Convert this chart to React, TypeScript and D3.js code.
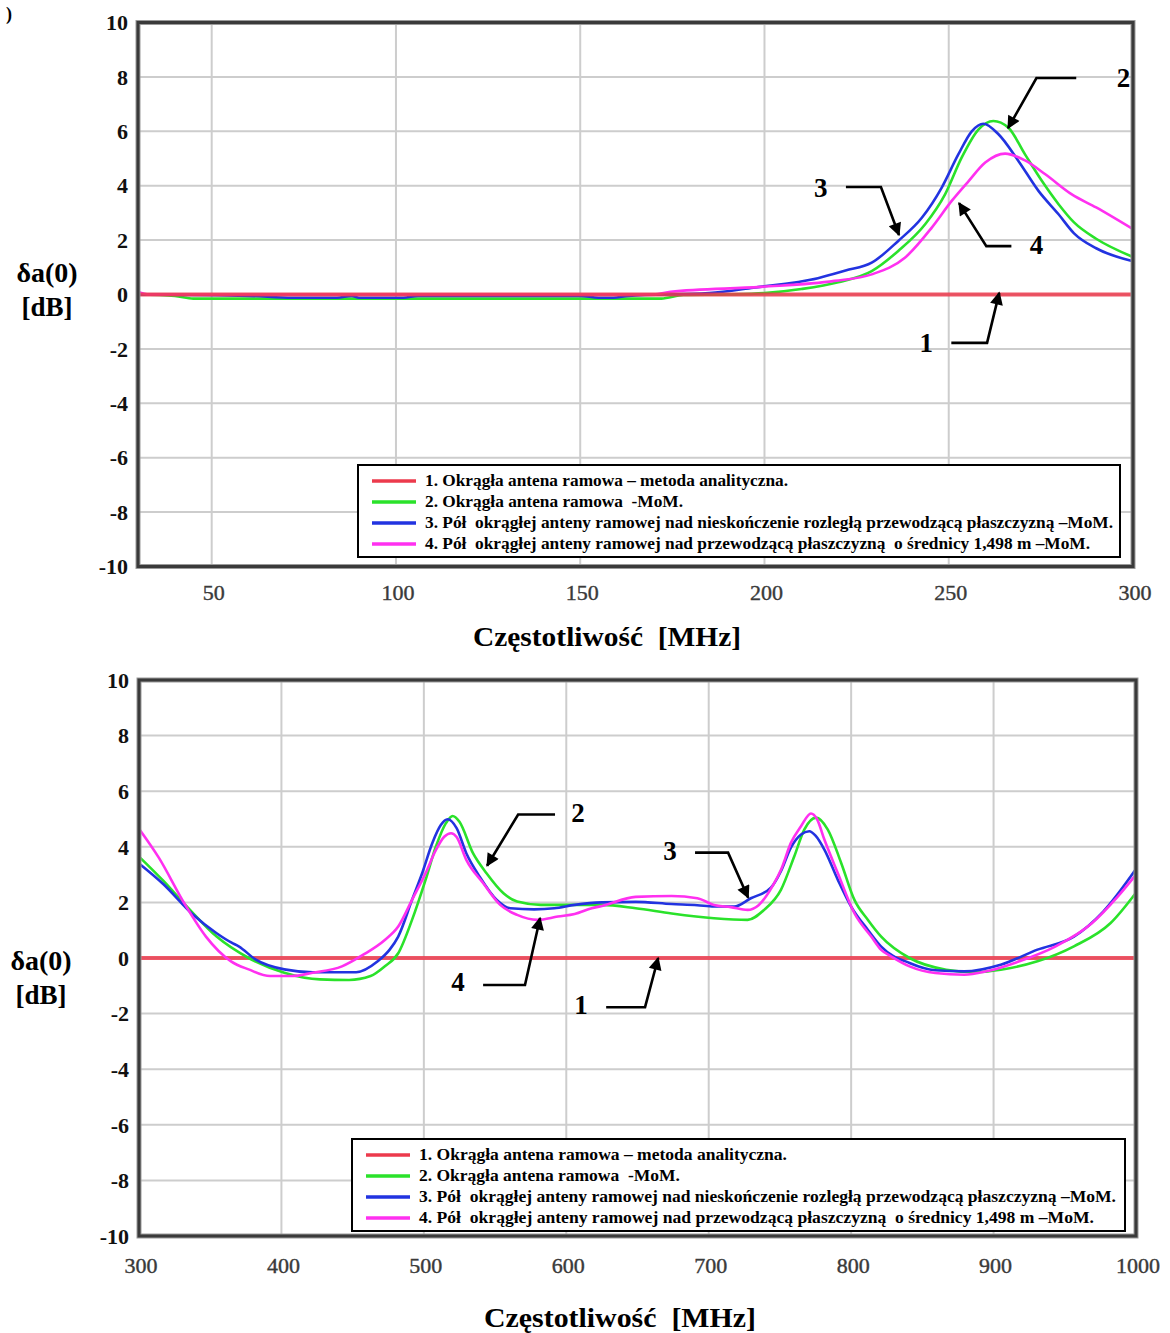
import React from 'react';
import * as d3 from 'd3';

type Pt = [number, number];

// ---- data: upper panel (30 - 300 MHz) ----
const topXTicks = [50, 100, 150, 200, 250, 300];
const topRed: Pt[] = [[30, 0], [300, 0]];
const topGreen: Pt[] = [
  [30, 0], [40, -0.05], [45, -0.15], [100, -0.15], [150, -0.15], [172, -0.15], [178, -0.02], [190, 0],
  [200, 0.05], [210, 0.2], [220, 0.45], [229.1, 0.86], [236.3, 1.6], [243.6, 2.58], [249, 3.68],
  [253.5, 5.03], [258.1, 6.07], [262.1, 6.38], [266.2, 6.13], [270.7, 5.15], [275.3, 4.17],
  [279.8, 3.32], [284, 2.65], [290, 2.05], [300, 1.38],
];
const topBlue: Pt[] = [
  [30, 0], [60, -0.05], [72, -0.12], [84, -0.12], [88, -0.05], [90, -0.12], [102, -0.12], [106, -0.05],
  [150, -0.05], [155, -0.12], [159, -0.12], [163, -0.05], [185, 0.05], [197, 0.25], [214.5, 0.6],
  [222, 0.88], [229.1, 1.17], [236.3, 1.97], [242.7, 2.82], [248.1, 3.93], [252.6, 5.15], [256.3, 6.01],
  [259.4, 6.28], [263.5, 5.89], [268.9, 4.91], [274.4, 3.8], [279.8, 2.95], [284, 2.25],
  [290, 1.7], [300, 1.22],
];
const topMagenta: Pt[] = [
  [30, 0.1], [33, 0], [170, 0], [174.5, 0.1], [199, 0.28], [219, 0.5], [229.1, 0.74], [238.1, 1.35],
  [245.4, 2.46], [250.8, 3.44], [255.4, 4.17], [259.9, 4.85], [265.3, 5.18], [270.7, 4.93],
  [276.2, 4.42], [283.4, 3.68], [290, 3.2], [300, 2.4],
];

// ---- data: lower panel (300 - 1000 MHz) ----
const bottomXTicks = [300, 400, 500, 600, 700, 800, 900, 1000];
const bottomRed: Pt[] = [[300, 0], [1000, 0]];
const bottomGreen: Pt[] = [
  [300, 3.65], [317, 2.78], [334, 1.83], [354.5, 0.77], [377, 0], [402, -0.53], [427, -0.77],
  [447.5, -0.79], [462.6, -0.65], [472.6, -0.3], [482, 0.17], [491.7, 1.37], [501.2, 2.81],
  [508.4, 4.0], [515.5, 4.85], [520.2, 5.11], [525, 4.9], [534.5, 3.77], [544, 3.05], [555.9, 2.33],
  [565.5, 2.03], [582.1, 1.91], [601.2, 1.91], [625, 1.91], [648.7, 1.79], [674, 1.6], [703.7, 1.43],
  [727.3, 1.37], [738.9, 1.73], [750.7, 2.45], [760.1, 3.66], [767.1, 4.62], [775.4, 5.05],
  [783.6, 4.62], [793, 3.42], [802.3, 2.09], [811.8, 1.37], [821.1, 0.77], [841, 0], [866.7, -0.42],
  [887, -0.51], [905, -0.42], [930.8, -0.12], [956.4, 0.42], [982, 1.25], [1000, 2.35],
];
const bottomBlue: Pt[] = [
  [300, 3.4], [317, 2.66], [337, 1.6], [354.5, 0.89], [365, 0.55], [370, 0.42], [382, -0.06],
  [402, -0.41], [422, -0.51], [452.5, -0.51], [467.6, -0.12], [476, 0.3], [482, 0.77], [491.7, 2.09],
  [498.8, 3.05], [505.9, 4.13], [511.9, 4.78], [516.7, 4.99], [523, 4.67], [529.8, 3.77],
  [539.3, 2.92], [551.2, 2.09], [560.7, 1.79], [577.4, 1.75], [591.6, 1.79], [605.9, 1.91], [625, 2.0],
  [648.7, 2.02], [674, 1.94], [692, 1.9], [703.7, 1.85], [717.8, 1.85], [729.6, 2.15], [743.7, 2.53],
  [750.7, 3.12], [757.7, 3.97], [764.8, 4.44], [770.6, 4.56], [775, 4.4], [781.2, 3.9], [790.6, 2.82],
  [800, 1.85], [811.8, 1.01], [821.1, 0.41], [841, -0.18], [859, -0.44], [879.5, -0.48], [905, -0.24],
  [930.8, 0.3], [956.4, 0.77], [977, 1.67], [1000, 3.2],
];
const bottomMagenta: Pt[] = [
  [300, 4.65], [314, 3.6], [332, 1.95], [347, 0.77], [364.6, -0.12], [377, -0.41], [392, -0.65],
  [407, -0.65], [422, -0.53], [442.5, -0.3], [457.5, 0.12], [472.6, 0.65], [482, 1.13], [491.7, 2.09],
  [501.2, 3.05], [508.4, 3.88], [514.3, 4.36], [519.1, 4.49], [523, 4.35], [529.8, 3.53],
  [541.7, 2.69], [553.6, 1.91], [565.5, 1.55], [579.8, 1.37], [594.1, 1.49], [605.9, 1.58],
  [617.9, 1.79], [625, 1.87], [648.7, 2.2], [674, 2.23], [692, 2.15], [703.7, 1.91], [715.5, 1.83],
  [727.3, 1.73], [735, 1.9], [745, 2.6], [751, 3.2], [757.7, 4.14], [764.8, 4.74], [771.8, 5.2],
  [776, 5.0], [781.2, 4.26], [790.6, 3.06], [802.3, 1.61], [814.1, 0.77], [821.1, 0.29], [828, 0.06],
  [841, -0.3], [859, -0.54], [879.5, -0.6], [895, -0.48], [918, -0.12], [943.6, 0.42], [969, 1.25],
  [987, 2.2], [1000, 3.0],
];

const yTicks = [-10, -8, -6, -4, -2, 0, 2, 4, 6, 8, 10];
const legendLabels = [
  '1. Okrągła antena ramowa – metoda analityczna.',
  '2. Okrągła antena ramowa  -MoM.',
  '3. Pół  okrągłej anteny ramowej nad nieskończenie rozległą przewodzącą płaszczyzną –MoM.',
  '4. Pół  okrągłej anteny ramowej nad przewodzącą płaszczyzną  o średnicy 1,498 m –MoM.',
];
const xTitle = 'Częstotliwość  [MHz]';

// callouts: label position and arrow path (last point = arrow tip), in data units
const topCallouts = [
  { label: '2', at: [297.4, 8.0] as Pt, path: [[284.6, 7.96], [273.8, 7.96], [266.1, 6.12]] as Pt[] },
  { label: '3', at: [215.3, 3.95] as Pt, path: [[222.1, 3.95], [231.6, 3.95], [236.5, 2.19]] as Pt[] },
  { label: '4', at: [273.8, 1.84] as Pt, path: [[267, 1.78], [260.2, 1.78], [252.8, 3.36]] as Pt[] },
  { label: '1', at: [243.9, -1.75] as Pt, path: [[250.7, -1.78], [260.4, -1.78], [263.7, 0.06]] as Pt[] },
];
const bottomCallouts = [
  { label: '2', at: [608.3, 5.23] as Pt, path: [[592.1, 5.16], [566.2, 5.16], [544.4, 3.32]] as Pt[] },
  { label: '4', at: [524, -0.83] as Pt, path: [[541.6, -0.97], [571, -0.97], [581.6, 1.44]] as Pt[] },
  { label: '3', at: [672.9, 3.86] as Pt, path: [[690.4, 3.79], [713.6, 3.79], [727.7, 2.17]] as Pt[] },
  { label: '1', at: [610.4, -1.66] as Pt, path: [[628, -1.77], [655.3, -1.77], [664.5, 0]] as Pt[] },
];

const colors = ['#ec3a4c', '#2ae22a', '#2233e0', '#ff30f0'];
const serif = '"Liberation Serif", "Times New Roman", serif';

interface PanelProps {
  left: number; right: number; top: number; bottom: number;
  xDomain: [number, number];
  xTicks: number[];
  series: Pt[][];
  redOnTop: boolean;
  callouts: { label: string; at: Pt; path: Pt[] }[];
  legendBox: { x: number; y: number; w: number; h: number };
  legendWidths: number[];
  yTitle: { x: number; y: number };
  xTitleX: number;
  xTitleY: number;
  xTitleW: number;
  xLabelY: number;
  markerId: string;
}

const Panel: React.FC<PanelProps> = (p) => {
  const x = d3.scaleLinear().domain(p.xDomain).range([p.left, p.right]);
  const y = d3.scaleLinear().domain([-10, 10]).range([p.bottom, p.top]);
  const line = d3.line<Pt>().x(d => x(d[0])).y(d => y(d[1])).curve(d3.curveMonotoneX);
  const arrow = d3.line<Pt>().x(d => x(d[0])).y(d => y(d[1]));

  const order = p.redOnTop ? [1, 2, 3, 0] : [0, 1, 2, 3];
  const lb = p.legendBox;
  const rowGap = (lb.h - 8) / 4;

  return (
    <g>
      <defs>
        <marker id={p.markerId} viewBox="0 0 10 10" refX="9" refY="5" markerWidth="17" markerHeight="13"
          markerUnits="userSpaceOnUse" orient="auto">
          <path d="M0,0 L10,5 L0,10 Z" fill="#000" />
        </marker>
      </defs>
      {/* grid */}
      {p.xTicks.filter(t => t > p.xDomain[0] && t < p.xDomain[1]).map(t => (
        <line key={'gx' + t} x1={x(t)} x2={x(t)} y1={p.top} y2={p.bottom} stroke="#cdcdcd" strokeWidth={2} />
      ))}
      {yTicks.filter(t => t > -10 && t < 10).map(t => (
        <line key={'gy' + t} x1={p.left} x2={p.right} y1={y(t)} y2={y(t)} stroke="#cdcdcd" strokeWidth={2} />
      ))}
      {/* series */}
      {order.map(i => (
        <path key={'s' + i} d={line(p.series[i]) || ''} fill="none" stroke={colors[i]}
          strokeWidth={i === 0 ? 4 : 2.6} strokeOpacity={i === 0 ? 0.85 : 1} strokeLinejoin="round" />
      ))}
      {/* frame */}
      <rect x={p.left} y={p.top} width={p.right - p.left} height={p.bottom - p.top} fill="none"
        stroke="#9a9a9a" strokeWidth={5} />
      <rect x={p.left} y={p.top} width={p.right - p.left} height={p.bottom - p.top} fill="none"
        stroke="#3a3a3a" strokeWidth={3} />
      {/* y tick labels */}
      {yTicks.map(t => (
        <text key={'yl' + t} x={p.left - 10} y={y(t)} dy="0.35em" textAnchor="end" fontFamily={serif}
          fontWeight="bold" fontSize={22} fill="#111">{t}</text>
      ))}
      {/* x tick labels */}
      {p.xTicks.map(t => (
        <text key={'xl' + t} x={x(t) + 2} y={p.xLabelY} textAnchor="middle" fontFamily={serif}
          fontSize={22} fill="#3a3a3a" stroke="#3a3a3a" strokeWidth={0.4}>{t}</text>
      ))}
      {/* axis titles */}
      <text x={p.xTitleX} y={p.xTitleY} textAnchor="middle" fontFamily={serif} fontWeight="bold"
        fontSize={28} fill="#000" textLength={p.xTitleW} lengthAdjust="spacingAndGlyphs"
        style={{ whiteSpace: 'pre' }}>{xTitle}</text>
      <text x={p.yTitle.x} y={p.yTitle.y} textAnchor="middle" fontFamily={serif} fontWeight="bold"
        fontSize={28} fill="#000">δa(0)</text>
      <text x={p.yTitle.x} y={p.yTitle.y + 34} textAnchor="middle" fontFamily={serif} fontWeight="bold"
        fontSize={27} fill="#000">[dB]</text>
      {/* legend */}
      <rect x={lb.x} y={lb.y} width={lb.w} height={lb.h} fill="#fff" stroke="#000" strokeWidth={2} />
      {legendLabels.map((s, i) => {
        const cy = lb.y + 16 + i * rowGap;
        return (
          <g key={'lg' + i}>
            <line x1={lb.x + 14} x2={lb.x + 58} y1={cy} y2={cy} stroke={colors[i]} strokeWidth={3.5} />
            <text x={lb.x + 67} y={cy + 5} fontFamily={serif} fontWeight="bold" fontSize={16.5} fill="#000"
              textLength={p.legendWidths[i]} lengthAdjust="spacingAndGlyphs" style={{ whiteSpace: 'pre' }}>{s}</text>
          </g>
        );
      })}
      {/* callouts */}
      {p.callouts.map((c, i) => (
        <g key={'co' + i}>
          <path d={arrow(c.path) || ''} fill="none" stroke="#000" strokeWidth={2.6} markerEnd={`url(#${p.markerId})`} />
          <text x={x(c.at[0])} y={y(c.at[1])} dy="0.36em" textAnchor="middle" fontFamily={serif}
            fontWeight="bold" fontSize={27} fill="#000">{c.label}</text>
        </g>
      ))}
    </g>
  );
};

export default function App() {
  return (
    <svg width={1170} height={1333} style={{ position: 'absolute', left: 0, top: 0, background: '#fff' }}>
      <rect width={1170} height={1333} fill="#fff" />
      <text x={6} y={20} fontFamily={serif} fontWeight="bold" fontSize={18} fill="#000">)</text>
      <Panel
        left={138} right={1133} top={22.5} bottom={566.5}
        xDomain={[30, 300]} xTicks={topXTicks}
        series={[topRed, topGreen, topBlue, topMagenta]}
        redOnTop={true}
        callouts={topCallouts}
        legendBox={{ x: 358, y: 465, w: 762, h: 92 }}
        legendWidths={[363, 258, 688, 665]}
        yTitle={{ x: 47, y: 282 }}
        xTitleX={607}
        xTitleY={646}
        xTitleW={268}
        xLabelY={600}
        markerId="arrowTop"
      />
      <Panel
        left={139} right={1136} top={680} bottom={1236}
        xDomain={[300, 1000]} xTicks={bottomXTicks}
        series={[bottomRed, bottomGreen, bottomBlue, bottomMagenta]}
        redOnTop={false}
        callouts={bottomCallouts}
        legendBox={{ x: 352, y: 1139, w: 773, h: 92 }}
        legendWidths={[368, 261, 697, 675]}
        yTitle={{ x: 41, y: 970 }}
        xTitleX={620}
        xTitleY={1327}
        xTitleW={272}
        xLabelY={1273}
        markerId="arrowBottom"
      />
    </svg>
  );
}
